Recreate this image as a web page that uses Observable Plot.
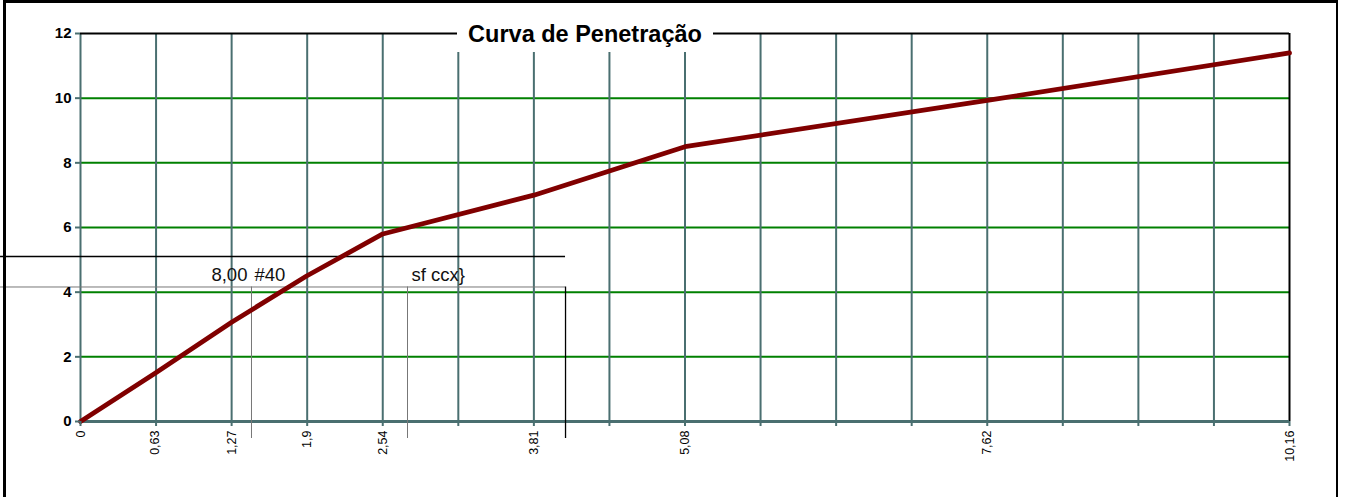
<!DOCTYPE html>
<html>
<head>
<meta charset="utf-8">
<script src="https://cdn.jsdelivr.net/npm/d3@7"></script>
<script src="https://cdn.jsdelivr.net/npm/@observablehq/plot@0.6"></script>
<style>
  html, body { margin: 0; padding: 0; background: #fff; }
  #wrap { position: relative; width: 1345px; height: 497px; overflow: hidden; font-family: "Liberation Sans", Arial, sans-serif; }
  #frame { position: absolute; left: 3px; top: 0px; width: 1335px; height: 510px; border-top: 3px solid #000; border-left: 3px solid #000; border-right: 2px solid #000; box-sizing: border-box; pointer-events: none; }
  #title { position: absolute; left: 457px; top: 16px; width: 256px; height: 36px; background: #fff; text-align: center; font-weight: bold; font-size: 23.5px; line-height: 36px; color: #000; }
</style>
</head>
<body>
<div id="wrap">
  <div id="chart"></div>
  <div id="frame"></div>
  <div id="title">Curva de Penetração</div>
</div>
<script>
// Series: penetration (x) vs load (y)
const penetration = [0, 0.63, 1.27, 1.9, 2.54, 3.81, 5.08, 7.62, 10.16];
const load        = [0, 1.5, 3.07, 4.5, 5.8, 7.0, 8.5, 9.93, 11.4];

// Axis ticks / labels
const xGridTicks  = [0, 0.635, 1.27, 1.905, 2.54, 3.175, 3.81, 4.445, 5.08, 5.715, 6.35, 6.985, 7.62, 8.255, 8.89, 9.525, 10.16];
const xLabelTicks = [0, 0.63, 1.27, 1.9, 2.54, 3.81, 5.08, 7.62, 10.16];
const xLabels     = ["0", "0,63", "1,27", "1,9", "2,54", "3,81", "5,08", "7,62", "10,16"];
const yTicks      = [0, 2, 4, 6, 8, 10, 12];
const yGreen      = [2, 4, 6, 8, 10];

// Stray annotation artefacts (in data units)
const annoHLines = [
  {x1: -0.672, x2: 4.076, y: 5.103, c: "#000", w: 1.3},
  {x1: -0.672, x2: 4.076, y: 4.16,  c: "#777", w: 1}
];
const annoVLines = [
  {x: 1.437, y1: 4.16, y2: -0.526, c: "#777", w: 1},
  {x: 2.748, y1: 4.16, y2: -0.526, c: "#777", w: 1},
  {x: 4.076, y1: 4.16, y2: -0.526, c: "#000", w: 1.3}
];
const annoTextsEnd   = [{x: 1.403, y: 4.33, t: "8,00"}];
const annoTextsStart = [{x: 1.462, y: 4.33, t: "#40"}, {x: 2.782, y: 4.33, t: "sf ccx}"}];

const data = penetration.map((x, i) => ({x, y: load[i]}));
const teal = "#4a6f70";

const chart = Plot.plot({
  width: 1345,
  height: 497,
  marginLeft: 80,
  marginRight: 56,
  marginTop: 33,
  marginBottom: 76,
  style: {fontFamily: "'Liberation Sans', Arial, sans-serif", background: "transparent", overflow: "visible"},
  x: {domain: [0, 10.16], label: null},
  y: {domain: [0, 12], label: null},
  marks: [
    Plot.ruleY(yGreen, {stroke: "#008000", strokeWidth: 2}),
    Plot.ruleX(xGridTicks.filter(d => d < 10.16), {stroke: teal, strokeWidth: 2}),
    Plot.ruleY([12], {stroke: "#000", strokeWidth: 2}),
    Plot.ruleX([10.16], {stroke: "#000", strokeWidth: 2}),
    Plot.ruleY([0], {stroke: teal, strokeWidth: 3}),
    Plot.ruleY(annoHLines, {x1: "x1", x2: "x2", y: "y", stroke: "c", strokeWidth: "w"}),
    Plot.ruleX(annoVLines, {x: "x", y1: "y1", y2: "y2", stroke: "c", strokeWidth: "w"}),
    Plot.text(annoTextsEnd, {x: "x", y: "y", text: "t", textAnchor: "end", lineAnchor: "bottom", fontSize: 18.5, fill: "#111"}),
    Plot.text(annoTextsStart, {x: "x", y: "y", text: "t", textAnchor: "start", lineAnchor: "bottom", fontSize: 18.5, fill: "#111"}),
    Plot.line(data, {x: "x", y: "y", stroke: "#800000", strokeWidth: 4.8, strokeLinejoin: "round"}),
    Plot.axisY(yTicks, {tickSize: 5, tickPadding: 4, stroke: teal, strokeWidth: 2, fontSize: 15, fontWeight: "bold", fill: "#000", label: null}),
    Plot.axisX(xGridTicks, {tickSize: 5, stroke: teal, strokeWidth: 2, tickFormat: () => "", label: null}),
    Plot.axisX(xLabelTicks, {tickSize: 0, tickPadding: 9, tickRotate: -90, fontSize: 12.5, fill: "#000",
      tickFormat: d => xLabels[xLabelTicks.indexOf(d)], label: null})
  ]
});
document.getElementById("chart").appendChild(chart);
</script>
</body>
</html>
